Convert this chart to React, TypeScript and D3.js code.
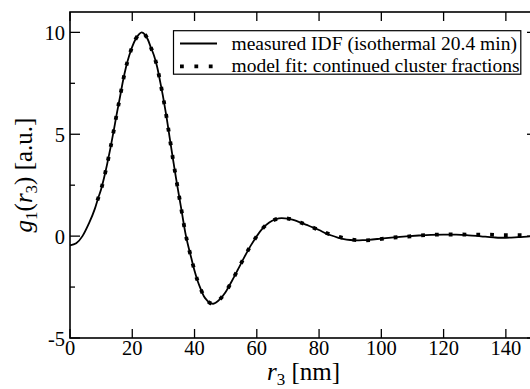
import React from "react";
import * as d3 from "d3";

const measuredR = [0, 2, 4, 6, 8, 9, 10, 11, 12, 13, 14, 15, 16, 17, 18, 19, 20, 21, 22, 23, 24, 25, 26, 27, 28, 29, 30, 31, 32, 33, 34, 35, 36, 37, 38, 39, 40, 41, 42, 43, 44, 45, 46, 47, 48, 50, 52, 54, 56, 58, 60, 62, 64, 66, 68, 70, 72, 74, 76, 78, 80, 82, 84, 86, 88, 90, 92, 94, 96, 100, 104, 108, 112, 116, 120, 124, 128, 132, 136, 138, 140, 144, 148, 150];
const measuredG = [-0.45, -0.35, 0.0, 0.6, 1.35, 1.85, 2.3, 2.9, 3.58, 4.33, 5.14, 5.99, 6.78, 7.6, 8.3, 8.85, 9.3, 9.65, 9.88, 10.0, 9.9, 9.65, 9.25, 8.85, 8.3, 7.55, 6.75, 5.85, 4.85, 3.85, 2.9, 2.0, 1.1, 0.2, -0.5, -1.1, -1.7, -2.2, -2.6, -2.95, -3.15, -3.28, -3.32, -3.25, -3.12, -2.74, -2.2, -1.62, -1.03, -0.48, 0.0, 0.4, 0.67, 0.82, 0.88, 0.86, 0.78, 0.67, 0.55, 0.43, 0.3, 0.15, 0.03, -0.07, -0.15, -0.19, -0.21, -0.2, -0.18, -0.12, -0.06, -0.01, 0.03, 0.06, 0.07, 0.07, 0.04, -0.01, -0.06, -0.08, -0.08, -0.05, -0.01, 0.0];

const modelR = [8.8, 10, 11, 12, 13, 14, 15, 16, 17, 18, 19, 20, 21, 22, 23, 24, 25, 26, 27, 28, 29, 30, 31, 32, 33, 34, 35, 36, 37, 38, 39, 40, 41, 42, 43, 44, 45, 46, 47, 48, 50, 52, 54, 56, 58, 60, 62, 64, 66, 68, 70, 72, 74, 76, 78, 80, 82, 84, 86, 90, 94, 99, 103, 108, 112, 117, 121, 126, 130, 135, 139, 144, 150];
const modelG = [1.75, 2.3, 2.9, 3.58, 4.33, 5.14, 5.99, 6.78, 7.6, 8.3, 8.85, 9.3, 9.65, 9.88, 10.0, 9.9, 9.65, 9.25, 8.85, 8.3, 7.55, 6.75, 5.85, 4.85, 3.85, 2.9, 2.0, 1.1, 0.2, -0.5, -1.1, -1.7, -2.2, -2.6, -2.95, -3.15, -3.28, -3.32, -3.25, -3.12, -2.74, -2.2, -1.62, -1.03, -0.48, 0.0, 0.4, 0.67, 0.82, 0.88, 0.86, 0.78, 0.67, 0.55, 0.43, 0.3, 0.17, 0.06, -0.02, -0.16, -0.21, -0.16, -0.08, -0.03, 0.03, 0.07, 0.08, 0.08, 0.07, 0.07, 0.05, 0.05, 0.04];

const xTicks = [0, 20, 40, 60, 80, 100, 120, 140];
const yTicks = [-5, 0, 5, 10];
const yMinorTicks = [-2.5, 2.5, 7.5];
const legendLabels = ["measured IDF (isothermal 20.4 min)", "model fit: continued cluster fractions"];

const FONT = '"Liberation Serif", "Times New Roman", serif';

export default function App() {
  const x = d3.scaleLinear().domain([0, 150]).range([70, 537]);
  const y = d3.scaleLinear().domain([-5, 11]).range([338, 12]);
  const line = d3
    .line<[number, number]>()
    .x((d) => x(d[0]))
    .y((d) => y(d[1]))
    .curve(d3.curveMonotoneX);
  const measured = measuredR.map((r, i) => [r, measuredG[i]] as [number, number]);
  const model = modelR.map((r, i) => [r, modelG[i]] as [number, number]);

  const x0 = x(0), x1 = x(150), yb = y(-5), yt = y(11);
  const ts = { fontFamily: FONT } as React.CSSProperties;

  return (
    <svg
      width={530}
      height={389}
      style={{ position: "absolute", left: 0, top: 0, background: "#fff", fontFamily: FONT }}
    >
      <rect x={0} y={0} width={530} height={389} fill="#fff" />
      {/* curves */}
      <path d={line(measured) || ""} fill="none" stroke="#000" strokeWidth={1.8} />
      <path
        d={line(model) || ""}
        fill="none"
        stroke="#000"
        strokeWidth={3.8}
        strokeDasharray="3.8 10"
        strokeLinecap="butt"
      />
      {/* frame */}
      <rect x={x0} y={yt} width={x1 - x0} height={yb - yt} fill="none" stroke="#000" strokeWidth={1.6} />
      {/* x ticks */}
      {xTicks.map((t) => (
        <g key={"xt" + t}>
          <line x1={x(t)} x2={x(t)} y1={yb} y2={yb - 9} stroke="#000" strokeWidth={1.3} />
          <line x1={x(t)} x2={x(t)} y1={yt} y2={yt + 9} stroke="#000" strokeWidth={1.3} />
          <text x={x(t)} y={355} textAnchor="middle" fontSize={20.5} style={ts}>
            {t}
          </text>
        </g>
      ))}
      {/* y ticks */}
      {yTicks.map((t) => (
        <g key={"yt" + t}>
          <line x1={x0} x2={x0 + 10} y1={y(t)} y2={y(t)} stroke="#000" strokeWidth={1.3} />
          <line x1={x1} x2={x1 - 10} y1={y(t)} y2={y(t)} stroke="#000" strokeWidth={1.3} />
          <text x={65} y={y(t) + 7.8} textAnchor="end" fontSize={20.5} style={ts}>
            {t}
          </text>
        </g>
      ))}
      {yMinorTicks.map((t) => (
        <g key={"ym" + t}>
          <line x1={x0} x2={x0 + 5} y1={y(t)} y2={y(t)} stroke="#000" strokeWidth={1.3} />
          <line x1={x1} x2={x1 - 5} y1={y(t)} y2={y(t)} stroke="#000" strokeWidth={1.3} />
        </g>
      ))}
      {/* axis titles */}
      <text x={(x0 + x1) / 2} y={379.5} textAnchor="middle" fontSize={25} style={ts}>
        <tspan fontStyle="italic">r</tspan>
        <tspan fontSize={17} dy={5}>3</tspan>
        <tspan dy={-5}> [nm]</tspan>
      </text>
      <text transform={`translate(31.5, ${(yt + yb) / 2}) rotate(-90)`} textAnchor="middle" fontSize={25} style={ts}>
        <tspan fontStyle="italic">g</tspan>
        <tspan fontSize={17} dy={5}>1</tspan>
        <tspan dy={-5}>(</tspan>
        <tspan fontStyle="italic">r</tspan>
        <tspan fontSize={17} dy={5}>3</tspan>
        <tspan dy={-5}>) [a.u.]</tspan>
      </text>
      {/* legend */}
      <rect x={173.5} y={30.7} width={347.3} height={43.5} fill="#fff" stroke="#000" strokeWidth={1.2} />
      <line x1={180} x2={217} y1={43.5} y2={43.5} stroke="#000" strokeWidth={1.8} />
      <line x1={180} x2={217} y1={66.3} y2={66.3} stroke="#000" strokeWidth={3.8} strokeDasharray="3.8 10.6" />
      <text x={231.5} y={49.5} fontSize={19.5} style={ts}>{legendLabels[0]}</text>
      <text x={231.5} y={71.5} fontSize={19.5} style={ts}>{legendLabels[1]}</text>
    </svg>
  );
}
